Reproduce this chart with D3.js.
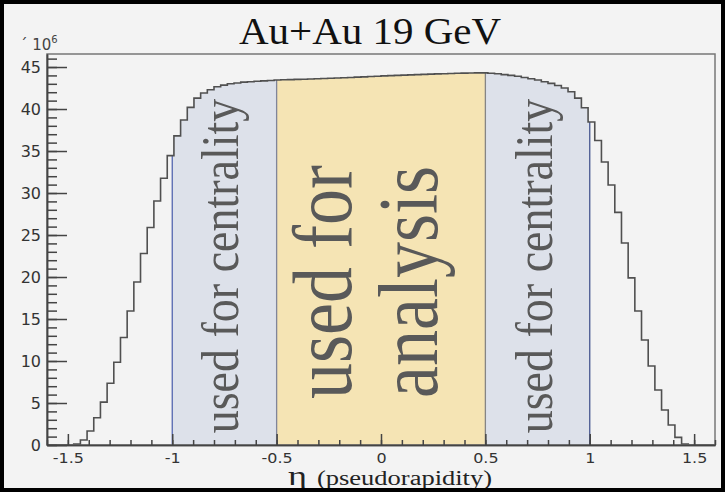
<!DOCTYPE html>
<html>
<head>
<meta charset="utf-8">
<title>Au+Au 19 GeV</title>
<style>
  body { margin: 0; background: #f3f3f3; }
  svg { display: block; }
  .axis text { font-family: "DejaVu Sans", sans-serif; font-size: 16px; fill: #333; }
  .axis.xlab text { font-size: 14px; }
  .axis path, .axis line { stroke: #444; stroke-width: 1.5px; }
</style>
</head>
<body>
<script src="https://cdn.jsdelivr.net/npm/d3@7"></script>
<script>
// eta range of the histogram and entries per bin (units of 10^6)
var binLow = -1.6, binHigh = 1.6;
var counts = [
  0, 0, 0, 0, 0.1, 0.6, 1.67, 3.25, 5.1, 7.35,
  9.85, 12.8, 15.95, 19.4, 22.8, 25.9, 29.05, 31.75, 34.45, 36.8,
  38.7, 40.2, 41.3, 41.9, 42.3, 42.65, 42.85, 43.0, 43.1, 43.2,
  43.25, 43.3, 43.35, 43.4, 43.45, 43.48, 43.5, 43.53, 43.55, 43.58,
  43.6, 43.63, 43.66, 43.7, 43.73, 43.76, 43.8, 43.83, 43.87, 43.9,
  43.94, 43.97, 44.0, 44.03, 44.06, 44.09, 44.12, 44.15, 44.18, 44.2,
  44.23, 44.25, 44.27, 44.29, 44.3, 44.3, 44.25, 44.2, 44.1, 44.0,
  43.9, 43.75, 43.6, 43.45, 43.25, 43.05, 42.8, 42.5, 42.05, 41.3,
  40.15, 38.45, 36.25, 33.7, 30.95, 27.7, 24.05, 19.9, 15.95, 12.5,
  9.4, 6.55, 4.17, 2.38, 0.91, 0.1, 0, 0, 0, 0
];
var yMax = 46.55;

var xTickValues = [-1.5, -1, -0.5, 0, 0.5, 1, 1.5];
var xTickLabels = ["-1.5", "-1", "-0.5", "0", "0.5", "1", "1.5"];
var yTickValues = [0, 5, 10, 15, 20, 25, 30, 35, 40, 45];

// eta windows and what they are used for
var regionFrom = [-1, -0.5, 0.5];
var regionTo = [-0.5, 0.5, 1];
var regionText = [["used for centrality"], ["used for", "analysis"], ["used for centrality"]];

var title = "Au+Au 19 GeV";
var xTitle = "(pseudorapidity)";

// looks
var serif = "'Liberation Serif', 'Times New Roman', serif";
var regionFill = ["#dde1ea", "#f5e4b4", "#dde1ea"];
var edgeColor = { "-1": "#5466b0", "-0.5": "#80859a", "0.5": "#858585", "1": "#45558f" };

var width = 725, height = 492;
// note: "top" is taken by window.top, so plot edges get their own names
var plotL = 47, plotR = 715, plotT = 54, plotB = 445;

var svg = d3.select("body").append("svg")
    .attr("width", width)
    .attr("height", height);

var x = d3.scaleLinear().domain([binLow, binHigh]).range([plotL, plotR]);
var y = d3.scaleLinear().domain([0, yMax]).range([plotB, plotT]);

var binWidth = (binHigh - binLow) / counts.length;
function valueAt(eta) {
  return counts[Math.floor((eta - binLow) / binWidth + 1e-9)];
}

// step outline points
var pts = [[binLow, 0]];
counts.forEach(function(c, i) {
  pts.push([binLow + i * binWidth, c]);
  pts.push([binLow + (i + 1) * binWidth, c]);
});
pts.push([binHigh, 0]);

var defs = svg.append("defs");
regionFrom.forEach(function(f, i) {
  defs.append("clipPath").attr("id", "clip" + i)
    .append("rect")
    .attr("x", x(f)).attr("y", plotT)
    .attr("width", x(regionTo[i]) - x(f))
    .attr("height", plotB - plotT);
});

var area = d3.area()
    .x(function(d) { return x(d[0]); })
    .y0(y(0))
    .y1(function(d) { return y(d[1]); });

regionFrom.forEach(function(f, i) {
  svg.append("path")
    .datum(pts)
    .attr("d", area)
    .attr("fill", regionFill[i])
    .attr("clip-path", "url(#clip" + i + ")");
});

// window edges
[-1, -0.5, 0.5, 1].forEach(function(e) {
  svg.append("line")
    .attr("x1", x(e)).attr("x2", x(e))
    .attr("y1", y(0)).attr("y2", y(valueAt(e)))
    .attr("stroke", edgeColor[String(e)])
    .attr("stroke-width", 1.3);
});

// region labels, rotated
regionFrom.forEach(function(f, i) {
  var mid = x((f + regionTo[i]) / 2);
  var lines = regionText[i];
  var big = lines.length > 1;
  var fs = big ? 72 : 46;
  var cy = big ? 282 : 266;
  lines.forEach(function(t, j) {
    var bx = big ? mid - 30 + j * 86 : mid + 14;
    svg.append("text")
      .attr("transform", "translate(" + bx + "," + cy + ") scale(1.17,1) rotate(-90)")
      .attr("text-anchor", "middle")
      .style("font-family", serif)
      .style("font-size", fs + "px")
      .attr("fill", "#595959")
      .text(t);
  });
});

// histogram outline
svg.append("path")
  .datum(pts)
  .attr("d", d3.line().x(function(d) { return x(d[0]); }).y(function(d) { return y(d[1]); }))
  .attr("fill", "none")
  .attr("stroke", "#505050")
  .attr("stroke-width", 1.6);

// frame
svg.append("rect")
  .attr("x", plotL).attr("y", plotT)
  .attr("width", plotR - plotL).attr("height", plotB - plotT)
  .attr("fill", "none")
  .attr("stroke", "#777")
  .attr("stroke-width", 1.5);

// axes, ticks point into the frame like ROOT
svg.append("g").attr("class", "axis xlab")
  .attr("transform", "translate(0," + plotB + ")")
  .call(d3.axisBottom(x).tickValues(xTickValues).tickSize(-11).tickSizeOuter(0).tickPadding(8)
    .tickFormat(function(d, i) { return xTickLabels[i]; }))
  .selectAll("text").attr("transform", "scale(1.14,1)");
svg.append("g").attr("class", "axis")
  .attr("transform", "translate(0," + plotB + ")")
  .call(d3.axisBottom(x).tickValues(d3.range(-16, 17).map(function(k) { return k / 10; }))
    .tickSize(-5).tickSizeOuter(0).tickFormat(""));

svg.append("g").attr("class", "axis")
  .attr("transform", "translate(" + plotL + ",0)")
  .call(d3.axisLeft(y).tickValues(yTickValues).tickSize(-20).tickSizeOuter(0).tickPadding(6));
svg.append("g").attr("class", "axis")
  .attr("transform", "translate(" + plotL + ",0)")
  .call(d3.axisLeft(y).tickValues(d3.range(0, 47)).tickSize(-10).tickSizeOuter(0).tickFormat(""));

// exponent
var ex = svg.append("text").attr("x", 20).attr("y", 50)
  .style("font-family", "'DejaVu Sans', sans-serif").style("font-size", "15px").attr("fill", "#444");
ex.append("tspan").text("´ 10");
ex.append("tspan").attr("dy", -7).style("font-size", "10px").text("6");

// title
svg.append("text")
  .attr("x", 370).attr("y", 44)
  .attr("text-anchor", "middle")
  .style("font-family", serif)
  .style("font-size", "37px")
  .attr("textLength", 262)
  .attr("lengthAdjust", "spacingAndGlyphs")
  .attr("fill", "#111")
  .text(title);

// x axis title
svg.append("text")
  .attr("x", 288).attr("y", 485)
  .style("font-family", serif)
  .style("font-size", "27px")
  .attr("textLength", 19)
  .attr("lengthAdjust", "spacingAndGlyphs")
  .attr("fill", "#222")
  .text("η");
svg.append("text")
  .attr("x", 317).attr("y", 485)
  .style("font-family", serif)
  .style("font-size", "20px")
  .attr("textLength", 175)
  .attr("lengthAdjust", "spacingAndGlyphs")
  .attr("fill", "#222")
  .text(xTitle);

// outer border of the picture
svg.append("rect")
  .attr("x", 2).attr("y", 2)
  .attr("width", width - 4).attr("height", height - 4)
  .attr("fill", "none")
  .attr("stroke", "#000")
  .attr("stroke-width", 4);
</script>
</body>
</html>
